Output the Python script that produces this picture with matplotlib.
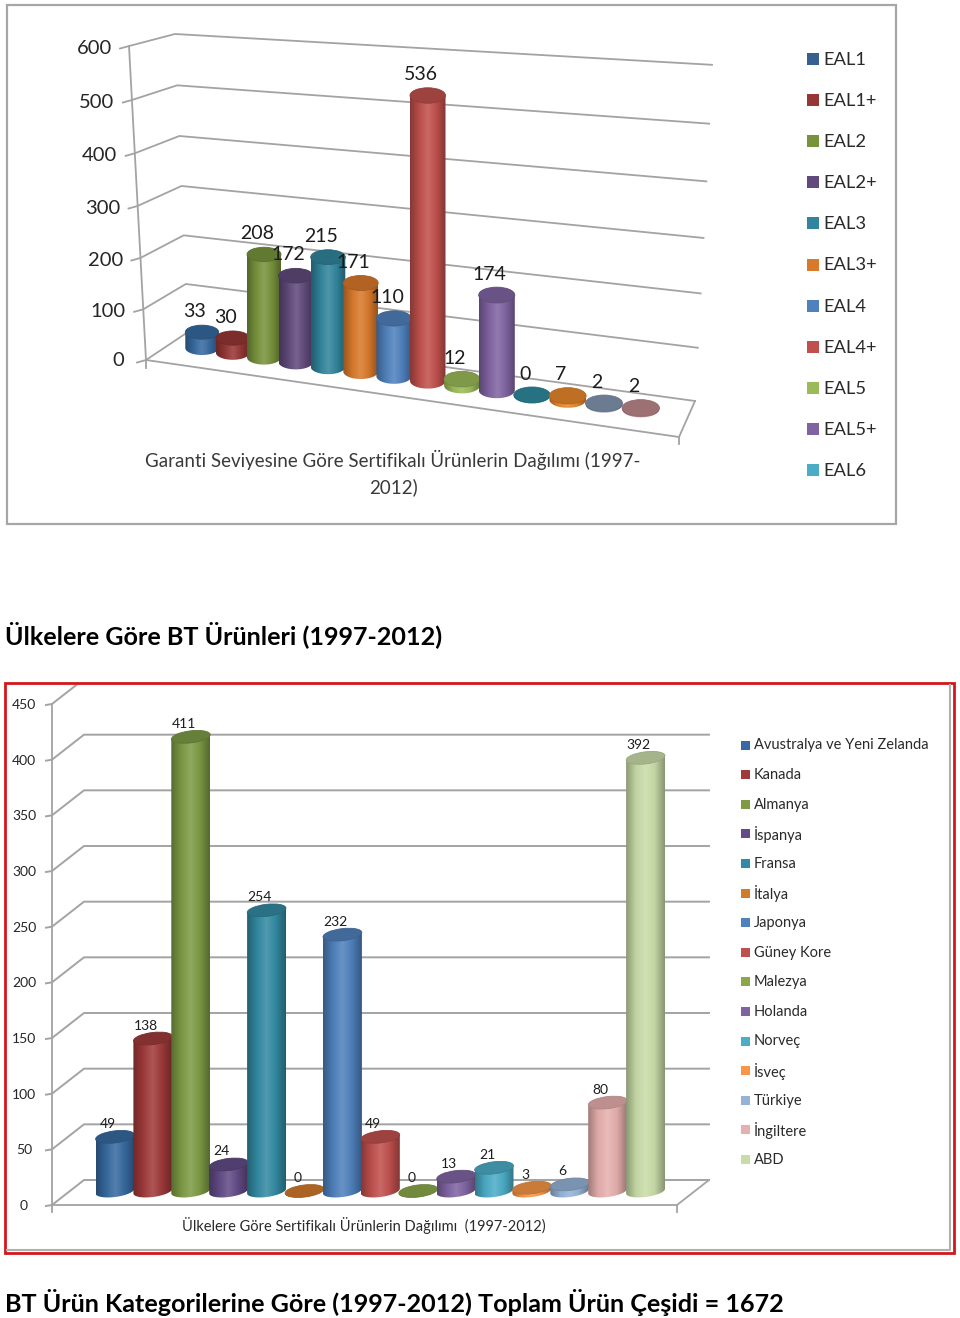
import numpy as np
import matplotlib
matplotlib.use("Agg")
import matplotlib.pyplot as plt
from matplotlib.patches import Ellipse, Polygon, Rectangle
from matplotlib.colors import LinearSegmentedColormap, to_rgb

plt.rcParams['font.family'] = ['Lato', 'DejaVu Sans']

# top chart data
eal_labels = ["EAL1", "EAL1+", "EAL2", "EAL2+", "EAL3", "EAL3+", "EAL4", "EAL4+", "EAL5", "EAL5+", "EAL6"]
eal_legend_colors = ["#376092", "#953735", "#77933C", "#604A7B", "#31859C", "#D9792B",
                     "#4F81BD", "#C0504D", "#9BBB59", "#8064A2", "#4BACC6"]
eal_values = [33, 30, 208, 172, 215, 171, 110, 536, 12, 174, 0, 7, 2, 2]
eal_colors = ["#376AA0", "#953735", "#77933C", "#604A7B", "#31859C", "#D9792B", "#4F81BD",
              "#C0504D", "#9BBB59", "#8064A2", "#2E8B9F", "#E8872B", "#8497B0", "#C08A8E"]
eal_ticks = [0, 100, 200, 300, 400, 500, 600]
eal_title = "Garanti Seviyesine Göre Sertifikalı Ürünlerin Dağılımı (1997-\n2012)"

# bottom chart data
country_labels = ["Avustralya ve Yeni Zelanda", "Kanada", "Almanya", "İspanya", "Fransa", "İtalya",
                  "Japonya", "Güney Kore", "Malezya", "Holanda", "Norveç", "İsveç", "Türkiye",
                  "İngiltere", "ABD"]
country_values = [49, 138, 411, 24, 254, 0, 232, 49, 0, 13, 21, 3, 6, 80, 392]
country_colors = ["#376AA0", "#A03A3A", "#7D9B45", "#624B86", "#338AA3", "#D07A2C", "#4F81BD",
                  "#C0504D", "#8AA84A", "#8064A2", "#4BACC6", "#F79646", "#95B3D7", "#E6B0AE", "#C9DCA8"]
country_ticks = [0, 50, 100, 150, 200, 250, 300, 350, 400, 450]
country_title = "Ülkelere Göre Sertifikalı Ürünlerin Dağılımı  (1997-2012)"

heading1 = "Ülkelere Göre BT Ürünleri (1997-2012)"
heading2 = "BT Ürün Kategorilerine Göre (1997-2012) Toplam Ürün Çeşidi = 1672"

GRID = "#A3A3A3"

fig = plt.figure(figsize=(9.6, 13.18), dpi=100)
ax = fig.add_axes([0, 0, 1, 1])


def shade(color):
    c = np.array(to_rgb(color))
    light = c + (1 - c) * 0.14
    return LinearSegmentedColormap.from_list("c", [c * 0.7, c * 0.96, light, c * 0.96, c * 0.68])


zorder = [10]


def cylinder(x, base, top, w, h, color, tilt=0.0):
    # one bar, drawn over the ones before it
    zorder[0] += 1
    a = np.linspace(0, np.pi, 30)
    xs = w * np.cos(a)
    ys = h * np.sin(a) - xs * np.tan(np.radians(tilt))
    pts = list(zip(x + xs, base + ys)) + [(x - w, top + w * np.tan(np.radians(tilt))),
                                           (x + w, top - w * np.tan(np.radians(tilt)))]
    clip = Polygon(pts, closed=True, fc="none", ec="none", zorder=zorder[0])
    ax.add_patch(clip)
    grad = np.linspace(0, 1, 64).reshape(1, -1)
    im = ax.imshow(grad, cmap=shade(color), extent=[x - w, x + w, base + h + 3, top - 3],
                   aspect="auto", interpolation="bilinear", zorder=zorder[0])
    im.set_clip_path(clip)
    c = np.array(to_rgb(color))
    cap = Ellipse((x, top), 2 * w, 2 * h, angle=-tilt, fc=c * 0.82, ec=c * 0.76, lw=0.6, zorder=zorder[0])
    ax.add_patch(cap)


def label(x, y, s, size, **kw):
    ax.text(x, y, s, fontsize=size, ha=kw.pop("ha", "center"), va="center", color=kw.pop("color", "#1c1c1c"),
            zorder=100, **kw)


# ---------- top chart ----------
ax.add_patch(Rectangle((7, 5), 889, 519, fc="white", ec="#A6A6A6", lw=1.6))


def fl_x(v): return 146 - v * 17 / 600
def fl_y(v): return 360 - 0.5033 * v - 3.33e-5 * v * v
def bl_x(v): return 188 - v * 13 / 600
def bl_y(v): return 332 - 0.4767 * v - 3.33e-5 * v * v
def br_x(v): return 695 + v * 17 / 600
def br_y(v): return 401 - 0.5267 * v - 5.6e-5 * v * v


for v in eal_ticks:
    ax.plot([fl_x(v) - 9, fl_x(v), bl_x(v), br_x(v)],
            [fl_y(v) + 2.5, fl_y(v), bl_y(v), br_y(v)], color=GRID, lw=1.3, zorder=2)
    label(fl_x(v) - 35 + (0 if v else 7), fl_y(v) + (2 if v else 0), str(v), 14.5, color="#262626")
ax.plot([fl_x(600), fl_x(0), fl_x(0)], [fl_y(600), fl_y(0), fl_y(0) + 8], color=GRID, lw=1.3, zorder=2)
ax.plot([146, 679, 679], [360, 437, 444], color=GRID, lw=1.3, zorder=2)
ax.plot([695, 679], [401, 437], color=GRID, lw=1.3, zorder=2)

for i, (v, col) in enumerate(zip(eal_values, eal_colors)):
    x = 202 + 30.5 * i + 0.25 * i * i
    base = 348 + 4.7 * i
    w = 16.7 + 0.15 * i
    h = 7 + 0.1 * i
    top = base - v * (0.48 + 0.0075 * i)
    cylinder(x, base, top, w, h, col)
    label(x - 7, top - 21, str(v), 14)

for k, (s, col) in enumerate(zip(eal_labels, eal_legend_colors)):
    y = 59 + 41.1 * k
    ax.add_patch(Rectangle((807, y - 6), 12, 12, fc=col, ec="none"))
    label(823, y + 1, s, 13.2, ha="left", color="#2a2a2a")

ax.text(393, 473, eal_title, fontsize=13.5, ha="center", va="center", color="#3a3a3a",
        linespacing=1.6, zorder=100)

# ---------- heading ----------
ax.text(5, 635, heading1, fontsize=18.1, fontweight="bold", ha="left", va="center", color="black")
ax.text(5, 1302, heading2, fontsize=18.1, fontweight="bold", ha="left", va="center", color="black")

# ---------- bottom chart ----------
ax.add_patch(Rectangle((5, 683), 949, 570, fc="white", ec="#D2161C", lw=2, zorder=1))
ax.plot([950, 950, 7], [685, 1250, 1250], color="#B0B0B0", lw=1.5, zorder=1)

frame_clip = Rectangle((7, 685), 943, 565, transform=ax.transData, fc="none", ec="none")
ax.add_patch(frame_clip)


def cf_y(v): return 1205 - v * 501 / 450
def cb_y(v): return 1180 - v * 501 / 450


for v in country_ticks:
    ln, = ax.plot([46, 52, 84, 709], [cf_y(v) + 1, cf_y(v), cb_y(v), cb_y(v)], color=GRID, lw=1.4, zorder=2)
    ln.set_clip_path(frame_clip)
    label(24, cf_y(v) + 1, str(v), 10, color="#262626")
ax.plot([52, 52], [cf_y(450), cf_y(0) + 7], color=GRID, lw=1.3, zorder=2)
ax.plot([52, 677, 677], [1205, 1205, 1212], color=GRID, lw=1.3, zorder=2)
ax.plot([709, 677], [1180, 1205], color=GRID, lw=1.3, zorder=2)

for i, (v, col) in enumerate(zip(country_values, country_colors)):
    x = 115 + 37.9 * i
    base = 1191
    top = base - v * 1.105
    cylinder(x, base, top, 19.5, 6, col, tilt=7)
    label(x - 7, top - 13, str(v), 10)

for k, (s, col) in enumerate(zip(country_labels, country_colors)):
    y = 745 + 29.6 * k
    ax.add_patch(Rectangle((741, y - 4.5), 9, 9, fc=col, ec="none", zorder=3))
    label(754, y + 0.5, s, 10.5, ha="left", color="#2a2a2a")

ax.text(364, 1226, country_title, fontsize=10.5, ha="center", va="center", color="#2a2a2a", zorder=100)

ax.set_xlim(0, 960)
ax.set_ylim(1318, 0)
ax.axis("off")
fig.savefig("out.png", dpi=100)
